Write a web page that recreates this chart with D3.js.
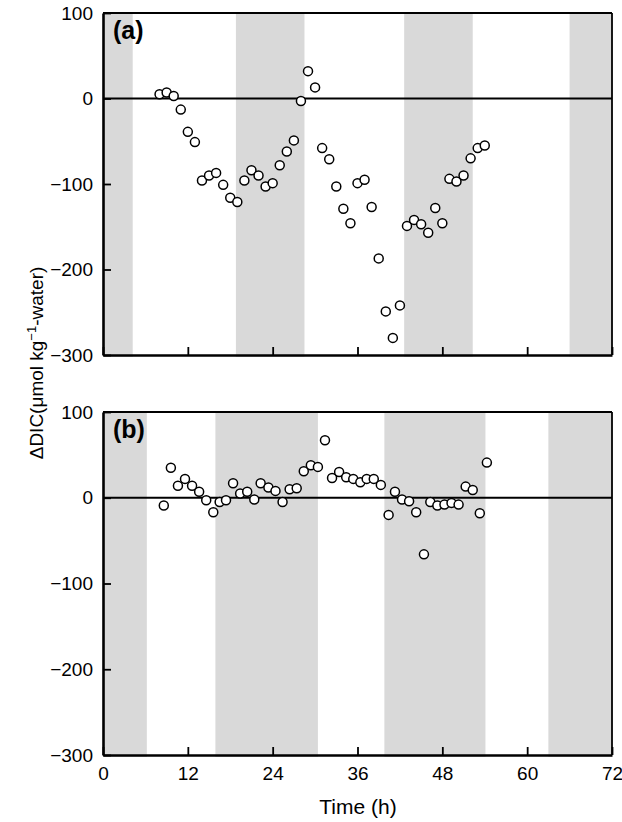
<!DOCTYPE html>
<html>
<head>
<meta charset="utf-8">
<script src="https://cdn.jsdelivr.net/npm/d3@7"></script>
<style>
  html, body { margin: 0; padding: 0; background: #fff; }
  svg { display: block; }
  text { font-family: "Liberation Sans", Arial, Helvetica, sans-serif; }
</style>
</head>
<body>
<svg id="chart" width="622" height="822"></svg>
<script>
// ---- data ----
const timeA = [8,9,10,11,12,13,14,15,16,17,18,19,20,21,22,23,24,25,26,27,28,29,30,31,32,33,34,35,36,37,38,39,40,41,42,43,44,45,46,47,48,49,50,51,52,53,54];
const dicA = [5,7,3,-13,-39,-51,-96,-90,-87,-101,-116,-121,-96,-84,-90,-103,-99,-78,-62,-49,-3,32,13,-58,-71,-103,-129,-146,-99,-95,-127,-187,-249,-280,-242,-149,-142,-147,-157,-128,-146,-94,-97,-90,-70,-58,-55];
const timeB = [8.6,9.6,10.6,11.6,12.6,13.6,14.6,15.6,16.5,17.4,18.4,19.4,20.4,21.4,22.3,23.4,24.4,25.4,26.4,27.4,28.4,29.4,30.4,31.4,32.4,33.4,34.4,35.4,36.4,37.3,38.3,39.3,40.4,41.3,42.3,43.3,44.3,45.4,46.3,47.3,48.3,49.3,50.3,51.3,52.3,53.3,54.3];
const dicB = [-9,35,14,22,14,7,-3,-17,-5,-3,17,5,7,-2,17,12,8,-5,10,11,31,38,36,67,23,30,24,22,18,22,22,15,-20,7,-2,-4,-17,-66,-5,-9,-8,-6,-8,13,9,-18,41];
const darkA = [[0,4.2],[18.8,28.5],[42.6,52.3],[66,72]];
const darkB = [[0,6.2],[15.9,30.4],[39.8,54.1],[63,72]];
const xTicks = [0,12,24,36,48,60,72];
const yTicks = [100,0,-100,-200,-300];
const panelLabels = ["(a)","(b)"];
const xTitle = "Time (h)";

// ---- layout ----
const svg = d3.select("#chart");
const left = 103, right = 612;
const x = d3.scaleLinear().domain([0,72]).range([left,right]);

const panels = [
  {top: 13, bottom: 355, t: timeA, v: dicA, dark: darkA, label: panelLabels[0], xlabels: false},
  {top: 412, bottom: 755, t: timeB, v: dicB, dark: darkB, label: panelLabels[1], xlabels: true}
];

panels.forEach(p => {
  const y = d3.scaleLinear().domain([-300,100]).range([p.bottom, p.top]);
  const g = svg.append("g");

  // shaded bands
  g.selectAll("rect.band").data(p.dark).enter().append("rect")
    .attr("x", d => x(d[0]))
    .attr("width", d => x(d[1]) - x(d[0]))
    .attr("y", p.top)
    .attr("height", p.bottom - p.top + 2)
    .attr("fill", "#d9d9d9");

  // zero line
  g.append("line")
    .attr("x1", x(0)).attr("x2", x(72))
    .attr("y1", y(0)).attr("y2", y(0))
    .attr("stroke", "#000").attr("stroke-width", 2);

  // points
  g.selectAll("circle").data(p.t.map((t,i) => [t, p.v[i]])).enter().append("circle")
    .attr("cx", d => x(d[0]))
    .attr("cy", d => y(d[1]))
    .attr("r", 4.5)
    .attr("fill", "#fff")
    .attr("stroke", "#000")
    .attr("stroke-width", 1.5);

  // frame: top and right
  g.append("line").attr("x1", x(0)).attr("x2", x(72)).attr("y1", p.top).attr("y2", p.top)
    .attr("stroke", "#000").attr("stroke-width", 1.8);
  g.append("line").attr("x1", x(72)).attr("x2", x(72)).attr("y1", p.top).attr("y2", p.bottom)
    .attr("stroke", "#000").attr("stroke-width", 1.8);

  // y axis
  const yAxis = d3.axisLeft(y).tickValues(yTicks).tickSizeInner(-8).tickSizeOuter(0).tickPadding(10);
  const ya = g.append("g").attr("transform", `translate(${left},0)`).call(yAxis);
  ya.select(".domain").attr("stroke-width", 2.6);
  ya.selectAll(".tick line").attr("stroke-width", 1.8);
  ya.selectAll(".tick text").attr("font-size", 19).attr("font-family", "Liberation Sans, Arial, sans-serif").attr("fill", "#000");

  // x axis
  const xAxis = d3.axisBottom(x).tickValues(xTicks).tickSizeInner(-8).tickSizeOuter(0).tickPadding(12)
    .tickFormat(p.xlabels ? d3.format("d") : () => "");
  const xa = g.append("g").attr("transform", `translate(0,${p.bottom})`).call(xAxis);
  xa.select(".domain").attr("stroke-width", 2.6);
  xa.selectAll(".tick line").attr("stroke-width", 1.8);
  xa.selectAll(".tick text").attr("font-size", 19).attr("font-family", "Liberation Sans, Arial, sans-serif").attr("fill", "#000");

  // panel label
  g.append("text")
    .attr("x", 113).attr("y", p.top + 26)
    .attr("font-size", 25).attr("font-weight", "bold")
    .text(p.label);
});

// x title
svg.append("text")
  .attr("x", 358).attr("y", 814)
  .attr("text-anchor", "middle")
  .attr("font-size", 21)
  .text(xTitle);

// y title
const yt = svg.append("text")
  .attr("transform", "translate(43,363) rotate(-90)")
  .attr("text-anchor", "middle")
  .attr("font-size", 19);
yt.append("tspan").text("\u0394DIC(\u03bcmol kg");
yt.append("tspan").attr("dy", -7).attr("font-size", 13).text("\u22121");
yt.append("tspan").attr("dy", 7).text("-water)");
</script>
</body>
</html>
